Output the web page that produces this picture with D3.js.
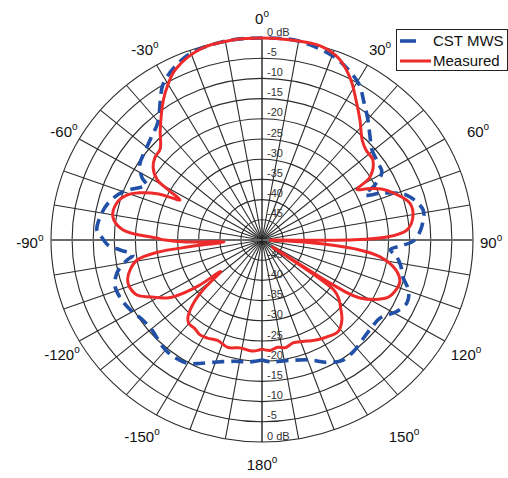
<!DOCTYPE html>
<html><head><meta charset="utf-8">
<script src="https://cdn.jsdelivr.net/npm/d3@7"></script>
<style>body{margin:0;background:#fff}svg{display:block}</style>
</head><body>
<script>
// ---- data ----
const ringTicks = [0,-5,-10,-15,-20,-25,-30,-35,-40,-45];
const angleTicks = [0,30,60,90,120,150,180,-150,-120,-90,-60,-30];
const seriesNames = ["CST MWS","Measured"];

const cstAngles = [-180,-174.6,-168,-160.6,-154,-149.8,-143,-138.5,-134,-130.6,-125,-120,-115,-110,-107.7,-103.3,-99,-96.9,-94.2,-92,-88,-86.4,-81.6,-76,-70,-65.5,-63.5,-61.6,-57,-51.5,-46,-40.2,-35,-31.5,-26,-20,-10,0,10,20.5,26,31,35,40.2,45,49.4,55,59.4,63,65.4,68,72,79,83.3,88.8,90.8,92.5,94.5,97,101,105.3,110,114.4,119,124.6,130,136.2,141,147.1,153,159,168,176.4,180];
const cstDb =     [-20.3,-19.7,-19.3,-18,-16,-14.7,-14.3,-14.6,-15.3,-15.7,-15.5,-14.5,-13.7,-13.3,-13.4,-14.7,-17.5,-19.2,-16.3,-13.5,-11.6,-10.8,-11.2,-12.4,-15,-18.5,-19.5,-17.7,-15.5,-14.6,-13.5,-11.8,-8,-5,-2.5,-0.8,0,0,0,-1.5,-3.2,-5.2,-8,-11.1,-13.8,-15.7,-16.5,-17,-20,-23.2,-19,-14,-11.1,-11.6,-13.2,-14.5,-17,-19.5,-18,-16.5,-15.4,-13,-12.3,-13.5,-16,-16.2,-15.7,-15,-14.6,-16,-18.2,-19.5,-19.8,-20.3];

const measAngles = [-180,-175,-169,-163,-157,-152,-148,-144,-140,-137.5,-135.5,-133.5,-131.5,-128.5,-127,-124,-122.5,-118,-114.7,-110,-107,-103,-99.5,-97,-95.5,-93,-91.5,-90,-88.9,-85.7,-80.8,-75,-71,-68,-65,-63,-61,-59,-55,-51,-47,-41.5,-34,-30,-26,-17,-8,0,8,16,22,27.8,33,38,43.8,48,53,58.6,61,63,66,69.4,75.4,81,85.9,88.6,90,91.5,93,96,98.5,103,107.2,111,115.5,121.7,123.5,124.5,126,129,131.9,136.3,141.6,147.3,151,155,159,163.9,168,172,176,180];
const measDb =     [-23,-22.4,-22.8,-22.2,-23,-22.5,-22.3,-22.9,-23,-24,-25.7,-28,-31.3,-37.5,-31,-25,-23.3,-20,-17.4,-16.5,-16.7,-18,-20,-25,-33,-41,-32,-27,-25,-17,-14.2,-14.4,-16,-18.8,-23,-28.2,-25,-21,-18.5,-17.4,-17,-13.6,-8.2,-5.5,-3.1,-0.5,0,0,0,0,-1.5,-5,-9,-12.3,-15.7,-16.8,-17.1,-20,-24.3,-22,-19,-16.8,-13.8,-13.8,-15.6,-20.4,-30,-48,-40,-27,-21.7,-17.5,-15.8,-15.9,-17.0,-22.7,-31,-47,-29,-26.5,-25,-22.6,-21,-21.5,-21.9,-22.5,-23.1,-23.5,-22.8,-23.2,-22.6,-23];

// per-label nudges (px) to match the reference text placement
const angleLabelDx = [0,2,15,-3,3,26,0,-4,1,0,3,-1];
const angleLabelDy = [1,2,3,3,4,5,3,5,4,3,3,2];

// ---- layout ----
const W = 508, H = 478;
const cx = 262, cy = 240, rx = 211, ry = 202;
const rScale = d3.scaleLinear().domain([-50, 0]).range([0, 1]).clamp(true);
const xS = d3.scaleLinear().domain([-1, 1]).range([cx - rx, cx + rx]);
const yS = d3.scaleLinear().domain([-1, 1]).range([cy + ry, cy - ry]);
const rad = d => d * Math.PI / 180;
const px = (a, r) => xS(r * Math.sin(rad(a)));
const py = (a, r) => yS(r * Math.cos(rad(a)));

const svg = d3.select("body").append("svg").attr("width", W).attr("height", H);
svg.append("rect").attr("width", W).attr("height", H).attr("fill", "#fff");

const grid = svg.append("g");
grid.selectAll("ellipse").data(ringTicks).join("ellipse")
  .attr("cx", cx).attr("cy", cy)
  .attr("rx", d => xS(rScale(d)) - cx).attr("ry", d => cy - yS(rScale(d)))
  .attr("fill", "none").attr("stroke", "#2b2b2b").attr("stroke-width", 1.1);
const spokes = d3.range(0, 360, 10).filter(a => a % 90 !== 0);
grid.selectAll("line.sp").data(spokes).join("line").attr("class", "sp")
  .attr("x1", cx).attr("y1", cy)
  .attr("x2", a => px(a, 1)).attr("y2", a => py(a, 1))
  .attr("stroke", "#2b2b2b").attr("stroke-width", 1.1);
grid.append("line").attr("x1", px(-90,1)).attr("y1", cy).attr("x2", px(90,1)).attr("y2", cy)
  .attr("stroke", "#6a6a6a").attr("stroke-width", 2);
grid.append("line").attr("x1", cx).attr("y1", py(0,1)).attr("x2", cx).attr("y2", py(180,1))
  .attr("stroke", "#222").attr("stroke-width", 1.4);

const rl = svg.append("g").attr("font-family", "Liberation Sans, Arial, sans-serif")
  .attr("font-size", 11).attr("fill", "#333");
[0, 180].forEach(a => {
  rl.selectAll(null).data(ringTicks).join("text")
    .attr("x", cx + 5)
    .attr("y", d => py(a, rScale(d)) - 2.5)
    .text(d => d === 0 ? "0 dB" : d);
});

const al = svg.append("g").attr("font-family", "Liberation Sans, Arial, sans-serif")
  .attr("font-size", 15).attr("fill", "#111");
al.selectAll("text").data(angleTicks).join("text")
  .attr("x", (a, i) => px(a, 1.1) + angleLabelDx[i])
  .attr("y", (a, i) => py(a, 1.1) + 5 + angleLabelDy[i])
  .attr("text-anchor", "middle")
  .each(function(a) {
    const t = d3.select(this);
    t.append("tspan").text(a);
    t.append("tspan").attr("font-size", 10).attr("dy", -7).text("o");
  });

const line = d3.line().curve(d3.curveCatmullRom.alpha(0.5));
const cstPts = cstAngles.map((a, i) => [px(a, rScale(cstDb[i])), py(a, rScale(cstDb[i]))]);
const measPts = measAngles.map((a, i) => [px(a, rScale(measDb[i])), py(a, rScale(measDb[i]))]);

svg.append("path").attr("d", line(cstPts)).attr("fill", "none")
  .attr("stroke", "#2150a6").attr("stroke-width", 3.6).attr("stroke-dasharray", "12,7");
svg.append("path").attr("d", line(measPts)).attr("fill", "none")
  .attr("stroke", "#ee2b2b").attr("stroke-width", 3).attr("stroke-linejoin", "round");

const lg = svg.append("g");
lg.append("rect").attr("x", 396.5).attr("y", 29.5).attr("width", 111).attr("height", 41)
  .attr("fill", "#fff").attr("stroke", "#222").attr("stroke-width", 1);
lg.append("line").attr("x1", 400).attr("x2", 416).attr("y1", 41).attr("y2", 41)
  .attr("stroke", "#2150a6").attr("stroke-width", 3.6);
lg.append("line").attr("x1", 400).attr("x2", 431).attr("y1", 61).attr("y2", 61)
  .attr("stroke", "#ee2b2b").attr("stroke-width", 3);
lg.selectAll("text").data(seriesNames).join("text")
  .attr("x", 433).attr("y", (d, i) => 46 + i * 20)
  .attr("font-family", "Liberation Sans, Arial, sans-serif").attr("font-size", 15).attr("fill", "#111")
  .text(d => d);
</script>
</body></html>
